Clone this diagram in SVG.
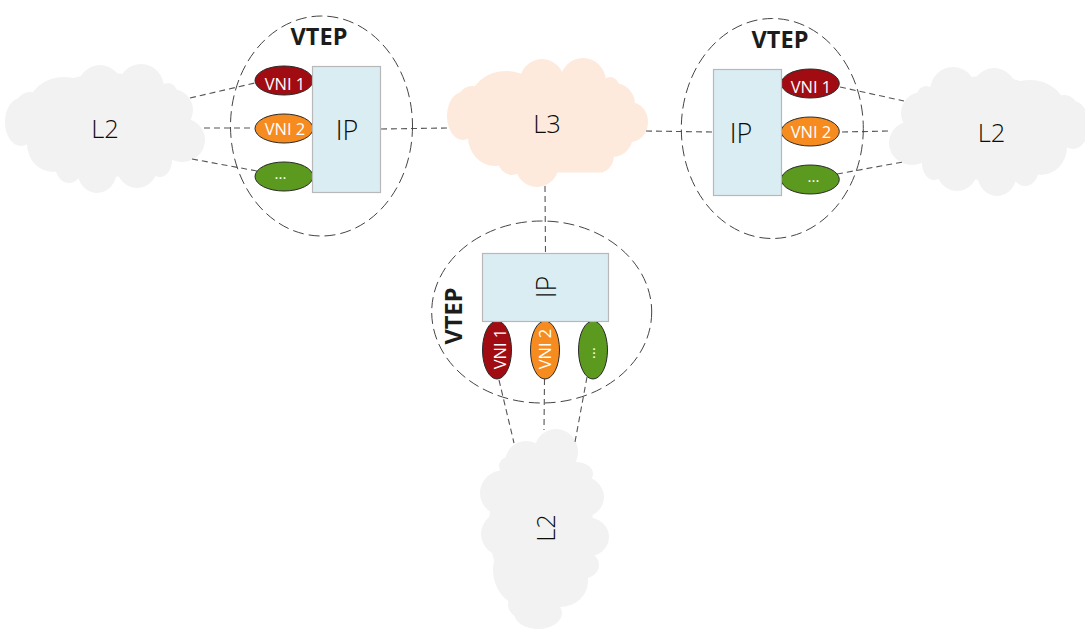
<svg xmlns="http://www.w3.org/2000/svg" width="1085" height="637" viewBox="0 0 1085 637">
<style>
text{font-family:"Open Sans","Noto Sans","Liberation Sans",sans-serif;text-anchor:middle;fill:#0c0c0c}
.lbl{font-size:25.5px;font-weight:300}
.ip{font-size:27px;font-weight:300}
.vtep{font-size:23.5px;font-weight:700;fill:#1c1c1c}
.vni{font-size:16.5px;fill:#fff}
.dots{font-size:15px;fill:#fff}
.boundary{fill:none;stroke:#444;stroke-width:1;stroke-dasharray:11 5}
.box{fill:#daedf3;stroke:#b8b8b8;stroke-width:1.2}
.oval{stroke:#2a2a2a;stroke-width:1}
.red{fill:#a00c11}.orange{fill:#f68b1f}.green{fill:#5b9a1e}
.cloud{fill:#f2f2f2}.cloud3{fill:#fdeadc}
#connectors line{stroke:#555;stroke-width:1.1;stroke-dasharray:6 4}
</style>
<defs>
<g id="cloud">
<ellipse cx="21" cy="122" rx="16" ry="24"/>
<ellipse cx="30" cy="108" rx="15" ry="16"/>
<ellipse cx="64" cy="108" rx="36" ry="31"/>
<ellipse cx="100" cy="90" rx="23" ry="25"/>
<ellipse cx="141" cy="88" rx="23" ry="24"/>
<ellipse cx="168" cy="92" rx="9" ry="9"/>
<ellipse cx="172" cy="110" rx="21" ry="21"/>
<ellipse cx="182" cy="140" rx="23" ry="22"/>
<ellipse cx="160" cy="160" rx="12" ry="17"/>
<ellipse cx="137" cy="165" rx="21" ry="23"/>
<ellipse cx="97" cy="170" rx="20" ry="23"/>
<ellipse cx="69" cy="165" rx="14" ry="18"/>
<ellipse cx="53" cy="144" rx="26" ry="28"/>
<ellipse cx="108" cy="125" rx="80" ry="52"/>
</g>
</defs>
<g id="l2-left" class="cloud"><use href="#cloud"/><text class="lbl" x="105" y="138">L2</text></g>
<g id="l2-right" class="cloud"><use href="#cloud" transform="translate(1094,3) scale(-1,1)"/><text class="lbl" x="991.5" y="142">L2</text></g>
<g id="l2-bottom" class="cloud"><use href="#cloud" transform="matrix(0,-1,1,0,416,634)"/><text class="lbl" transform="translate(555,528) rotate(-90)">L2</text></g>
<g id="l3" class="cloud3">
<ellipse cx="463" cy="116" rx="16" ry="24"/>
<ellipse cx="472" cy="102" rx="15" ry="16"/>
<ellipse cx="506" cy="102" rx="36" ry="31"/>
<ellipse cx="542" cy="84" rx="23" ry="25"/>
<ellipse cx="583" cy="82" rx="23" ry="24"/>
<ellipse cx="610" cy="86" rx="9" ry="9"/>
<ellipse cx="614" cy="104" rx="21" ry="21"/>
<ellipse cx="630" cy="122" rx="18" ry="20"/>
<ellipse cx="613" cy="135" rx="20" ry="22"/>
<rect x="510" y="120" width="93" height="52.5"/>
<ellipse cx="601" cy="155" rx="13" ry="17"/>
<ellipse cx="537" cy="164" rx="22" ry="23"/>
<ellipse cx="495" cy="137" rx="27" ry="29"/>
<ellipse cx="512" cy="160" rx="14" ry="15"/>
<ellipse cx="550" cy="119" rx="80" ry="47"/>
<text class="lbl" x="547" y="133">L3</text>
</g>
<g id="connectors">
<line x1="190" y1="98" x2="255" y2="83"/>
<line x1="204" y1="128" x2="254" y2="128"/>
<line x1="192" y1="159" x2="257" y2="171"/>
<line x1="381" y1="129" x2="447" y2="128"/>
<line x1="646" y1="131" x2="713" y2="132"/>
<line x1="545" y1="186" x2="545.5" y2="253"/>
<line x1="840" y1="87" x2="904" y2="101"/>
<line x1="842" y1="132" x2="890" y2="131"/>
<line x1="837" y1="174" x2="903" y2="162"/>
<line x1="499" y1="380" x2="514" y2="443"/>
<line x1="544.5" y1="379" x2="544" y2="430"/>
<line x1="587" y1="377" x2="575" y2="442"/>
</g>
<g id="vtep-left">
<ellipse class="boundary" cx="321.5" cy="126" rx="91" ry="110"/>
<ellipse class="oval red" cx="284" cy="80.5" rx="29" ry="14.5"/>
<ellipse class="oval orange" cx="284" cy="128.5" rx="29" ry="14.5"/>
<ellipse class="oval green" cx="284" cy="176.5" rx="29" ry="14.5"/>
<rect class="box" x="312.5" y="66.5" width="68" height="126"/>
<text class="vtep" x="319" y="45">VTEP</text>
<text class="ip" x="347" y="140">IP</text>
<text class="vni" x="285" y="90">VNI 1</text>
<text class="vni" x="285" y="135">VNI 2</text>
<text class="dots" x="280.5" y="179">...</text>
</g>
<g id="vtep-right">
<ellipse class="boundary" cx="772.3" cy="128.5" rx="91" ry="110"/>
<ellipse class="oval red" cx="810.3" cy="83.5" rx="29" ry="14.5"/>
<ellipse class="oval orange" cx="810.3" cy="131.5" rx="29" ry="14.5"/>
<ellipse class="oval green" cx="810.3" cy="179.5" rx="29" ry="14.5"/>
<rect class="box" x="713.5" y="69.5" width="68" height="126"/>
<text class="vtep" x="780" y="48">VTEP</text>
<text class="ip" x="741" y="143">IP</text>
<text class="vni" x="811" y="93">VNI 1</text>
<text class="vni" x="811" y="138">VNI 2</text>
<text class="dots" x="813.5" y="182">...</text>
</g>
<g id="vtep-bottom">
<ellipse class="boundary" cx="541.7" cy="312" rx="110" ry="91"/>
<ellipse class="oval red" cx="497" cy="350" rx="14.5" ry="29"/>
<ellipse class="oval orange" cx="545" cy="350" rx="14.5" ry="29"/>
<ellipse class="oval green" cx="593" cy="350" rx="14.5" ry="29"/>
<rect class="box" x="482.5" y="253.5" width="126" height="68"/>
<text class="vtep" transform="translate(462,316) rotate(-90)">VTEP</text>
<text class="ip" transform="translate(556,287) rotate(-90)">IP</text>
<text class="vni" transform="translate(506,349) rotate(-90)">VNI 1</text>
<text class="vni" transform="translate(551,349) rotate(-90)">VNI 2</text>
<text class="dots" transform="translate(595,353) rotate(-90)">...</text>
</g>
</svg>
